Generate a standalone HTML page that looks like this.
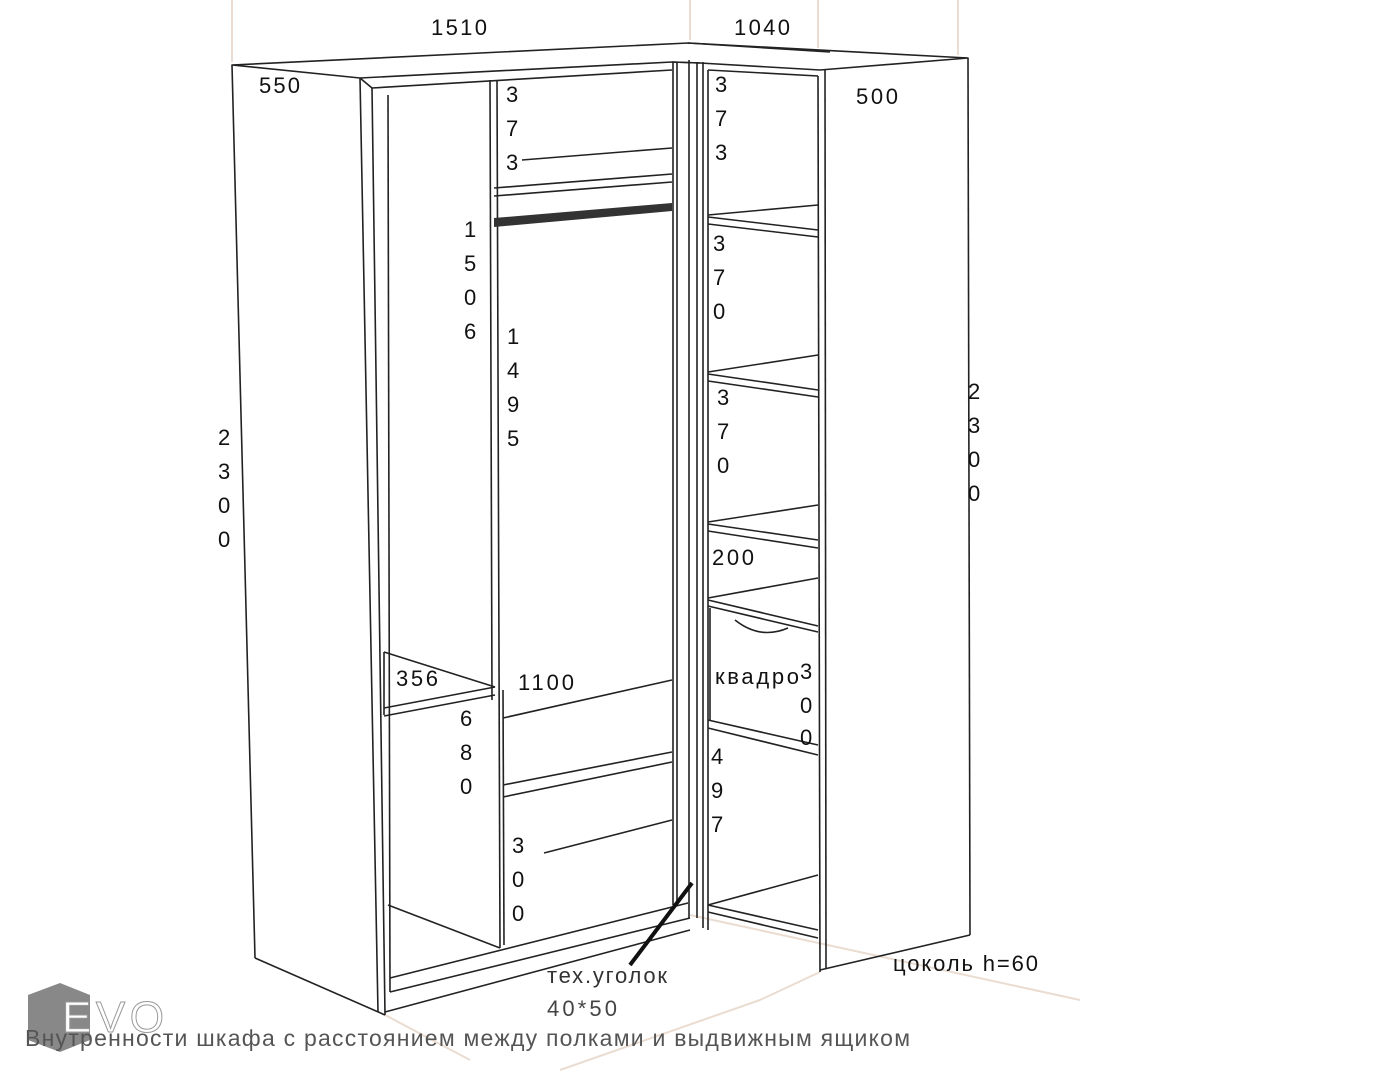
<!DOCTYPE html>
<html><head><meta charset="utf-8"><style>
html,body{margin:0;padding:0;background:#fff;}
svg{display:block}
text{font-family:"Liberation Sans",sans-serif;font-size:22px;fill:#111}
</style></head><body>
<svg width="1382" height="1080" viewBox="0 0 1382 1080" xmlns="http://www.w3.org/2000/svg">
<g stroke="#eadcd0" stroke-width="2" fill="none">
<line x1="232" y1="0" x2="232" y2="62"/>
<line x1="690" y1="0" x2="690" y2="40"/>
<line x1="818" y1="0" x2="818" y2="48"/>
<line x1="958" y1="0" x2="958" y2="55"/>
<line x1="385" y1="1015" x2="470" y2="1060"/>
<line x1="690" y1="915" x2="1080" y2="1000"/>
<line x1="820" y1="972" x2="760" y2="1000"/>
<line x1="560" y1="1070" x2="760" y2="1000"/>
</g>
<g stroke="#222" stroke-width="1.6" fill="none" stroke-linejoin="round">
<polygon points="232,65 688,43 968,58 820,70 700,63 672,62 360,78"/>
<line x1="672" y1="62" x2="700" y2="63"/>
<line x1="688" y1="43" x2="830" y2="52"/>
<line x1="372" y1="88" x2="672" y2="70"/>
<line x1="708" y1="70" x2="818" y2="76"/>
<line x1="232" y1="65" x2="255" y2="958"/>
<line x1="360" y1="78" x2="372" y2="88"/>
<line x1="360" y1="78" x2="378" y2="1012"/>
<line x1="255" y1="958" x2="385" y2="1015"/>
<line x1="372" y1="88" x2="385" y2="1015"/>
<line x1="388" y1="95" x2="390" y2="992"/>
<line x1="390" y1="978" x2="688" y2="903"/>
<line x1="390" y1="992" x2="690" y2="918"/>
<line x1="385" y1="1012" x2="690" y2="930"/>
<line x1="490" y1="80" x2="492" y2="700"/>
<line x1="497" y1="80" x2="500" y2="948"/>
<line x1="503" y1="690" x2="504" y2="945"/>
<line x1="388" y1="905" x2="500" y2="948"/>
<line x1="384" y1="652" x2="495" y2="687"/>
<line x1="384" y1="652" x2="384" y2="715"/>
<line x1="384" y1="708" x2="495" y2="687"/>
<line x1="384" y1="716" x2="495" y2="695"/>
<line x1="522" y1="160" x2="672" y2="148"/>
<line x1="494" y1="188" x2="672" y2="174"/>
<line x1="494" y1="196" x2="672" y2="182"/>
<line x1="503" y1="718" x2="672" y2="680"/>
<line x1="503" y1="785" x2="672" y2="752"/>
<line x1="503" y1="797" x2="672" y2="762"/>
<line x1="544" y1="853" x2="672" y2="820"/>
<line x1="673" y1="62" x2="673" y2="905"/>
<line x1="677" y1="62" x2="677" y2="905"/>
<line x1="689" y1="60" x2="689" y2="918"/>
<line x1="697" y1="62" x2="697" y2="918"/>
<line x1="703" y1="62" x2="703" y2="928"/>
<line x1="708" y1="70" x2="708" y2="930"/>
<line x1="818" y1="76" x2="820" y2="972"/>
<line x1="825" y1="70" x2="826" y2="968"/>
<line x1="968" y1="58" x2="970" y2="935"/>
<line x1="820" y1="970" x2="970" y2="935"/>
<line x1="708" y1="215" x2="818" y2="205"/>
<line x1="708" y1="217" x2="818" y2="230"/>
<line x1="708" y1="224" x2="818" y2="237"/>
<line x1="708" y1="372" x2="818" y2="355"/>
<line x1="708" y1="374" x2="818" y2="390"/>
<line x1="708" y1="381" x2="818" y2="397"/>
<line x1="708" y1="522" x2="818" y2="505"/>
<line x1="708" y1="524" x2="818" y2="540"/>
<line x1="708" y1="531" x2="818" y2="548"/>
<line x1="708" y1="598" x2="818" y2="578"/>
<line x1="708" y1="600" x2="818" y2="626"/>
<line x1="708" y1="606" x2="818" y2="632"/>
<line x1="710" y1="608" x2="710" y2="720"/>
<line x1="708" y1="720" x2="818" y2="745"/>
<line x1="708" y1="728" x2="818" y2="755"/>
<path d="M735,620 Q760,640 788,628"/>
<line x1="708" y1="905" x2="818" y2="875"/>
<line x1="708" y1="905" x2="818" y2="930"/>
<line x1="708" y1="912" x2="818" y2="938"/>
</g>
<polygon points="494,218 672,203 672,211 494,227" fill="#333"/>
<line x1="630" y1="965" x2="692" y2="883" stroke="#111" stroke-width="4"/>
<text x="431" y="35" textLength="56">1510</text>
<text x="734" y="35" textLength="56">1040</text>
<text x="259" y="93" textLength="41">550</text>
<text x="856" y="104" textLength="42">500</text>
<g>
<text x="506" y="102">3</text><text x="506" y="136">7</text><text x="506" y="170">3</text>
<text x="715" y="92">3</text><text x="715" y="126">7</text><text x="715" y="160">3</text>
<text x="464" y="237">1</text><text x="464" y="271">5</text><text x="464" y="305">0</text><text x="464" y="339">6</text>
<text x="507" y="344">1</text><text x="507" y="378">4</text><text x="507" y="412">9</text><text x="507" y="446">5</text>
<text x="713" y="251">3</text><text x="713" y="285">7</text><text x="713" y="319">0</text>
<text x="717" y="405">3</text><text x="717" y="439">7</text><text x="717" y="473">0</text>
<text x="218" y="445">2</text><text x="218" y="479">3</text><text x="218" y="513">0</text><text x="218" y="547">0</text>
<text x="968" y="399">2</text><text x="968" y="433">3</text><text x="968" y="467">0</text><text x="968" y="501">0</text>
<text x="712" y="565" textLength="42">200</text>
<text x="396" y="686" textLength="42">356</text>
<text x="518" y="690" textLength="56">1100</text>
<text x="715" y="684" textLength="84">квадро</text>
<text x="800" y="679">3</text><text x="800" y="713">0</text><text x="800" y="745">0</text>
<text x="460" y="726">6</text><text x="460" y="760">8</text><text x="460" y="794">0</text>
<text x="711" y="764">4</text><text x="711" y="798">9</text><text x="711" y="832">7</text>
<text x="512" y="853">3</text><text x="512" y="887">0</text><text x="512" y="921">0</text>
<text x="893" y="971" textLength="145">цоколь h=60</text>
<text x="547" y="983" textLength="120" style="fill:#333">тех.уголок</text>
<text x="547" y="1016" textLength="70" style="fill:#444">40*50</text>
</g>
<polygon points="60,983 90,995 90,1040 60,1052 28,1040 28,995" fill="#888"/>
<text x="62" y="1032" textLength="102" style="font-size:44px;fill:#fff;stroke:#999;stroke-width:1">EVO</text>
<text x="25" y="1046" textLength="885" style="font-size:23px;fill:#555">Внутренности шкафа с расстоянием между полками и выдвижным ящиком</text>
</svg>
</body></html>
